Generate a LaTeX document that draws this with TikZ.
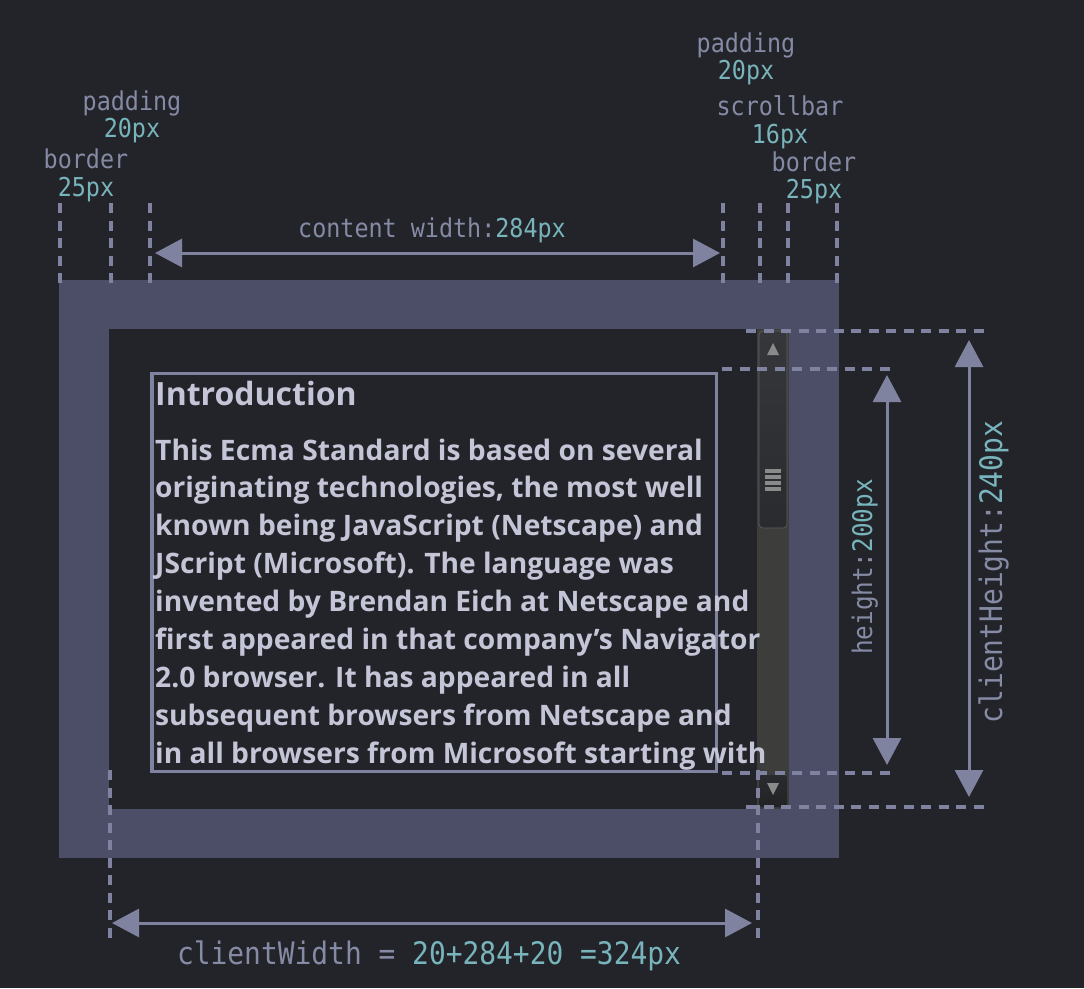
\documentclass[tikz,border=0pt]{standalone}
\usepackage{fontspec}
\setmainfont{Open Sans}
\newfontfamily\monofam[FakeStretch=0.9]{DejaVu Sans Mono}
\usetikzlibrary{arrows.meta}
\definecolor{bgc}{HTML}{232429}
\definecolor{brdc}{HTML}{4B4E66}
\definecolor{linec}{HTML}{7F839F}
\definecolor{lblc}{HTML}{858AA5}
\definecolor{tealc}{HTML}{78B4BC}
\definecolor{txtc}{HTML}{C4C5D6}
\definecolor{trackc}{HTML}{3D3D3B}
\definecolor{thumbtop}{HTML}{36373A}
\definecolor{thumbbot}{HTML}{2A2B2E}
\definecolor{glyphc}{HTML}{8A8A8A}
\tikzset{
  dashln/.style={draw=linec, line width=3.6pt, dash pattern=on 10pt off 7.5pt},
  dimarrow/.style={draw=linec, line width=3pt, {Triangle[length=27pt,width=28pt]}-{Triangle[length=27pt,width=28pt]}},
  lab/.style={text=lblc, font=\monofam\fontsize{26}{28}\selectfont, inner sep=0pt, anchor=base},
  val/.style={text=tealc, font=\monofam\fontsize{26}{28}\selectfont, inner sep=0pt, anchor=base},
  bodyline/.style={text=txtc, font=\bfseries\fontsize{28.2}{38}\selectfont, inner sep=0pt, anchor=base west},
  titleline/.style={text=txtc, font=\bfseries\fontsize{32}{38}\selectfont, inner sep=0pt, anchor=base west},
}
\begin{document}
\begin{tikzpicture}[x=1pt,y=-1pt]
\useasboundingbox (0,0) rectangle (1084,988);
\fill[bgc] (0,0) rectangle (1084,988);
% box
\fill[brdc] (59,280) rectangle (839,858);
\fill[bgc] (109,329) rectangle (789,809);
% scrollbar
\fill[trackc] (757,329) rectangle (789,809);
\shade[top color=thumbtop, bottom color=thumbbot, rounded corners=4pt] (759,331) rectangle (787,528);
\draw[draw=thumbtop!80!white, line width=0.6pt, rounded corners=4pt] (759,331) rectangle (787,528);
\shade[top color=thumbbot, bottom color=thumbbot!80!black, rounded corners=3pt] (759,775) rectangle (787,807);
\fill[glyphc] (767,355) -- (779,355) -- (773,343) -- cycle;
\fill[glyphc] (767,783) -- (779,783) -- (773,795) -- cycle;
\foreach \yy in {471,477,483,489} \fill[glyphc] (765,\yy-1.8) rectangle (781,\yy+1.8);
% content box
\draw[linec, line width=3.5pt] (152,373.5) rectangle (716.5,771.5);
% text
\node[titleline] (title) at (155,405) {Introduction};
\node[bodyline] (l1) at (155,460) {This Ecma Standard is based on several};
\node[bodyline] (l2) at (155,497.9) {originating technologies, the most well};
\node[bodyline] (l3) at (155,535.8) {known being JavaScript (Netscape) and};
\node[bodyline] (l4) at (155,573.7) {JScript (Microsoft). The language was};
\node[bodyline] (l5) at (155,611.6) {invented by Brendan Eich at Netscape and};
\node[bodyline] (l6) at (155,649.5) {first appeared in that company’s Navigator};
\node[bodyline] (l7) at (155,687.4) {2.0 browser. It has appeared in all};
\node[bodyline] (l8) at (155,725.3) {subsequent browsers from Netscape and};
\node[bodyline] (l9) at (155,763.2) {in all browsers from Microsoft starting with};
% top dashed guides
\foreach \xx/\nm in {60/a,111/b,150/c,723/d,760/e,788/f,837/g}{
  \coordinate (t\nm) at (\xx,203);
  \coordinate (u\nm) at (\xx,285);
  \draw[dashln] (t\nm) -- (u\nm);
}
% right horizontal dashed guides
\coordinate (h1a) at (746,331); \coordinate (h1b) at (990,331);
\coordinate (h2a) at (722,369); \coordinate (h2b) at (894,369);
\coordinate (h3a) at (722,773); \coordinate (h3b) at (894,773);
\coordinate (h4a) at (746,807); \coordinate (h4b) at (990,807);
\draw[dashln] (h1a) -- (h1b);
\draw[dashln] (h2a) -- (h2b);
\draw[dashln] (h3a) -- (h3b);
\draw[dashln] (h4a) -- (h4b);
% bottom vertical dashed guides
\coordinate (v1a) at (110,770); \coordinate (v1b) at (110,940);
\coordinate (v2a) at (758,770); \coordinate (v2b) at (758,940);
\draw[dashln] (v1a) -- (v1b);
\draw[dashln] (v2a) -- (v2b);
% arrows
\coordinate (cwL) at (155,253); \coordinate (cwR) at (720,253);
\draw[dimarrow] (cwL) -- (cwR);
\coordinate (hT) at (887,375); \coordinate (hB) at (887,765);
\draw[dimarrow] (hT) -- (hB);
\coordinate (chT) at (969,340); \coordinate (chB) at (969,797);
\draw[dimarrow] (chT) -- (chB);
\coordinate (clL) at (112,923); \coordinate (clR) at (752,923);
\draw[dimarrow] (clL) -- (clR);
% labels
\node[lab] (padL) at (132,110) {padding};
\node[val] (padLv) at (132,137) {20px};
\node[lab] (brdL) at (86,168) {border};
\node[val] (brdLv) at (86,196) {25px};
\node[lab] (padR) at (746,52) {padding};
\node[val] (padRv) at (746,79) {20px};
\node[lab] (scrR) at (780,115) {scrollbar};
\node[val] (scrRv) at (780,143) {16px};
\node[lab] (brdR) at (814,171) {border};
\node[val] (brdRv) at (814,198) {25px};
\node[lab] (cw) at (432,237) {content width:\textcolor{tealc}{284px}};
\node[lab, rotate=90, font=\monofam\fontsize{27}{28}\selectfont] (hl) at (872,567) {height:\textcolor{tealc}{200px}};
\node[lab, rotate=90, font=\monofam\fontsize{31}{32}\selectfont] (chl) at (1002,572) {clientHeight:\textcolor{tealc}{240px}};
\node[lab, font=\monofam\fontsize{31}{32}\selectfont] (clw) at (429,964) {clientWidth = \textcolor{tealc}{20+284+20 =324px}};
\end{tikzpicture}
\end{document}
